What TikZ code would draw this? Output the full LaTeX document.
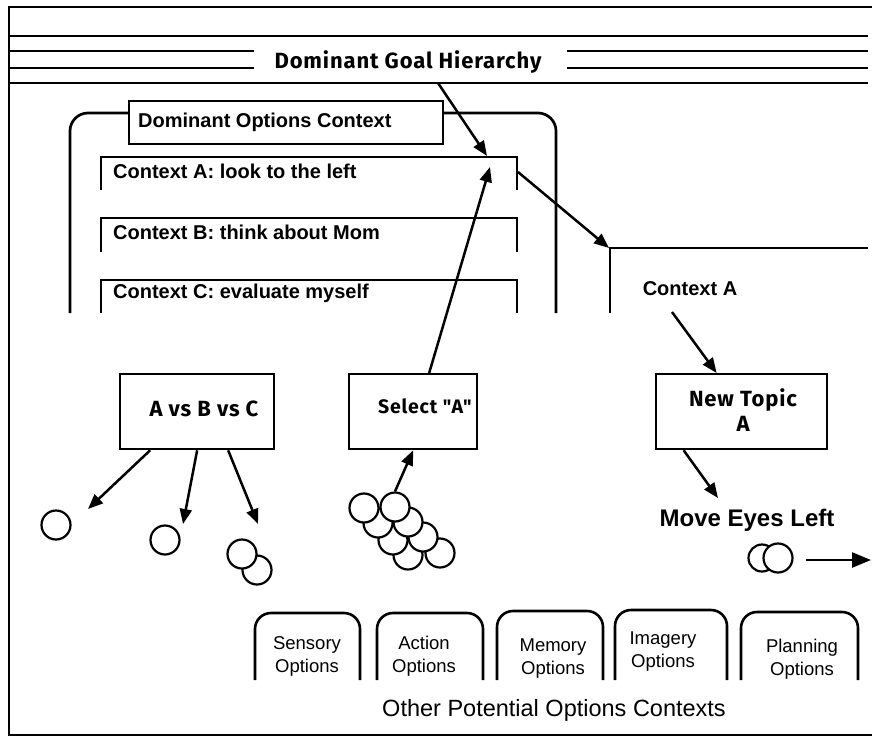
\documentclass[tikz,border=0pt]{standalone}
\usepackage{fontspec}
\setmainfont{Liberation Sans}
\newfontfamily\chic[LetterSpace=4]{Fira Sans}
\usetikzlibrary{arrows.meta}
\begin{document}
\begin{tikzpicture}[x=1pt,y=-1pt,
  ln/.style={line width=2.7pt},
  arr/.style={line width=2.5pt,-{Triangle[length=15pt,width=12pt]}},
  boxst/.style={draw,line width=2.3pt,fill=white,inner sep=0pt},
  ctx/.style={font=\bfseries\fontsize{20}{22}\selectfont,anchor=west,inner sep=0pt},
  chicago/.style={font=\chic\bfseries\fontsize{22}{25}\selectfont,align=center,inner sep=0pt},
  tabline/.style={line width=2.6pt,rounded corners=16pt},
  tabtext/.style={font=\fontsize{18.5}{23}\selectfont,align=center,inner sep=0pt},
  bub/.style={circle,draw,line width=2.2pt,fill=white,minimum size=29pt,inner sep=0pt}
]
\useasboundingbox (0,0) rectangle (872,737);
\fill[white] (0,0) rectangle (872,737);

% frame
\draw[line width=1.6pt] (872,7) -- (9,7) -- (9,735) -- (872,735);

% goal hierarchy lines
\draw[ln] (10,36) -- (868,36);
\draw[ln] (10,51) -- (254,51);
\draw[ln] (567,51) -- (868,51);
\draw[ln] (10,68) -- (254,68);
\draw[ln] (567,68) -- (868,68);
\draw[ln] (10,83) -- (868,83);
\node[chicago] (goal) at (408,62) {Dominant Goal Hierarchy};

% dominant options context
\draw[ln,rounded corners=18pt] (70,313) -- (70,113) -- (556,113) -- (556,313);
\node[boxst,minimum width=314pt,minimum height=43pt,anchor=north west] (docbox) at (128,100) {};
\node[ctx] (doc) at (138,122) {Dominant Options Context};

\draw[ln] (101,190) -- (101,157) -- (517,157) -- (517,190);
\node[ctx] (ctxA) at (113,171) {Context A: look to the left};
\draw[ln] (101,252) -- (101,218) -- (517,218) -- (517,252);
\node[ctx] (ctxB) at (113,232) {Context B: think about Mom};
\draw[ln] (101,313) -- (101,280) -- (517,280) -- (517,313);
\node[ctx] (ctxC) at (113,293) {Context C: evaluate myself};

% right context
\draw[ln] (610,313) -- (610,248) -- (868,248);
\node[ctx,anchor=center] (ctxAlab) at (690,289) {Context A};

% boxes
\node[boxst,minimum width=154pt,minimum height=75pt,anchor=north west] (avb) at (119,373) {};
\node[chicago] (avbt) at (204,409) {A vs B vs C};
\node[boxst,minimum width=128pt,minimum height=75pt,anchor=north west] (sel) at (348,373) {};
\node[chicago,font=\chic\bfseries\fontsize{19.5}{25}\selectfont] (selt) at (425,406) {Select "A"};
\node[boxst,minimum width=171pt,minimum height=75pt,anchor=north west] (nt) at (655,373) {};
\node[chicago] (ntt) at (743,410) {New Topic\\A};

\node[font=\bfseries\fontsize{24}{28}\selectfont,inner sep=0pt] (move) at (747,520) {Move Eyes Left};

% circles
\node[bub] (c1) at (56,525) {};
\node[bub] (c2) at (165,540) {};
\node[bub] (c4) at (257,570) {};
\node[bub] (c3) at (242,554) {};

\node[bub] (k8) at (440,553) {};
\node[bub] (k7) at (408,555) {};
\node[bub] (k6) at (423,537) {};
\node[bub] (k5) at (393,540) {};
\node[bub] (k4) at (408,522) {};
\node[bub] (k3) at (378,523) {};
\node[bub] (k2) at (395,507) {};
\node[bub] (k1) at (364,508) {};

\node[bub,minimum size=27pt] (e1) at (762,558) {};
\node[bub] (e2) at (778,558) {};

% arrow end points
\coordinate (gfoot) at (438,83);
\coordinate (tipdown) at (487,156);
\coordinate (tipup) at (490,167);
\coordinate (ctxAr) at (518,172);
\coordinate (corner) at (609,248);
\coordinate (ctxAlabfoot) at (672,312);
\coordinate (movetop) at (718,498);
\coordinate (eyestail) at (806,560);
\coordinate (eyeshead) at (871,560);
\coordinate (a1) at (88,509);
\coordinate (a2) at (183,524);
\coordinate (a3) at (258,524);

% arrows
\draw[arr] (gfoot) -- (tipdown);
\draw[arr] ([xshift=16pt]sel.north) -- (tipup);
\draw[arr] (ctxAr) -- (corner);
\draw[arr] (ctxAlabfoot) -- ([xshift=-25pt]nt.north);
\draw[arr] ([xshift=-58pt]nt.south) -- (movetop);
\draw[arr,-{Triangle[length=19pt,width=15pt]}] (eyestail) -- (eyeshead);
\draw[arr] ([xshift=-47pt]avb.south) -- (a1);
\draw[arr] ([xshift=0pt]avb.south) -- (a2);
\draw[arr] ([xshift=31pt]avb.south) -- (a3);
\draw[arr] (k2.north) -- ([xshift=0pt]sel.south);

% tabs
\draw[tabline] (255,680) -- (255,613) -- (360,613) -- (360,680);
\node[tabtext] (t1) at (307,656) {Sensory\\Options};
\draw[tabline] (377,680) -- (377,613) -- (483,613) -- (483,680);
\node[tabtext] (t2) at (424,656) {Action\\Options};
\draw[tabline] (497,680) -- (497,611) -- (603,611) -- (603,680);
\node[tabtext] (t3) at (553,659) {Memory\\Options};
\draw[tabline] (615,680) -- (615,610) -- (727,610) -- (727,680);
\node[tabtext] (t4) at (663,652) {Imagery\\Options};
\draw[tabline] (741,680) -- (741,612) -- (858,612) -- (858,680);
\node[tabtext] (t5) at (802,659) {Planning\\Options};
\node[font=\fontsize{23.5}{26}\selectfont,inner sep=0pt] (other) at (554,710) {Other Potential Options Contexts};
\end{tikzpicture}
\end{document}
